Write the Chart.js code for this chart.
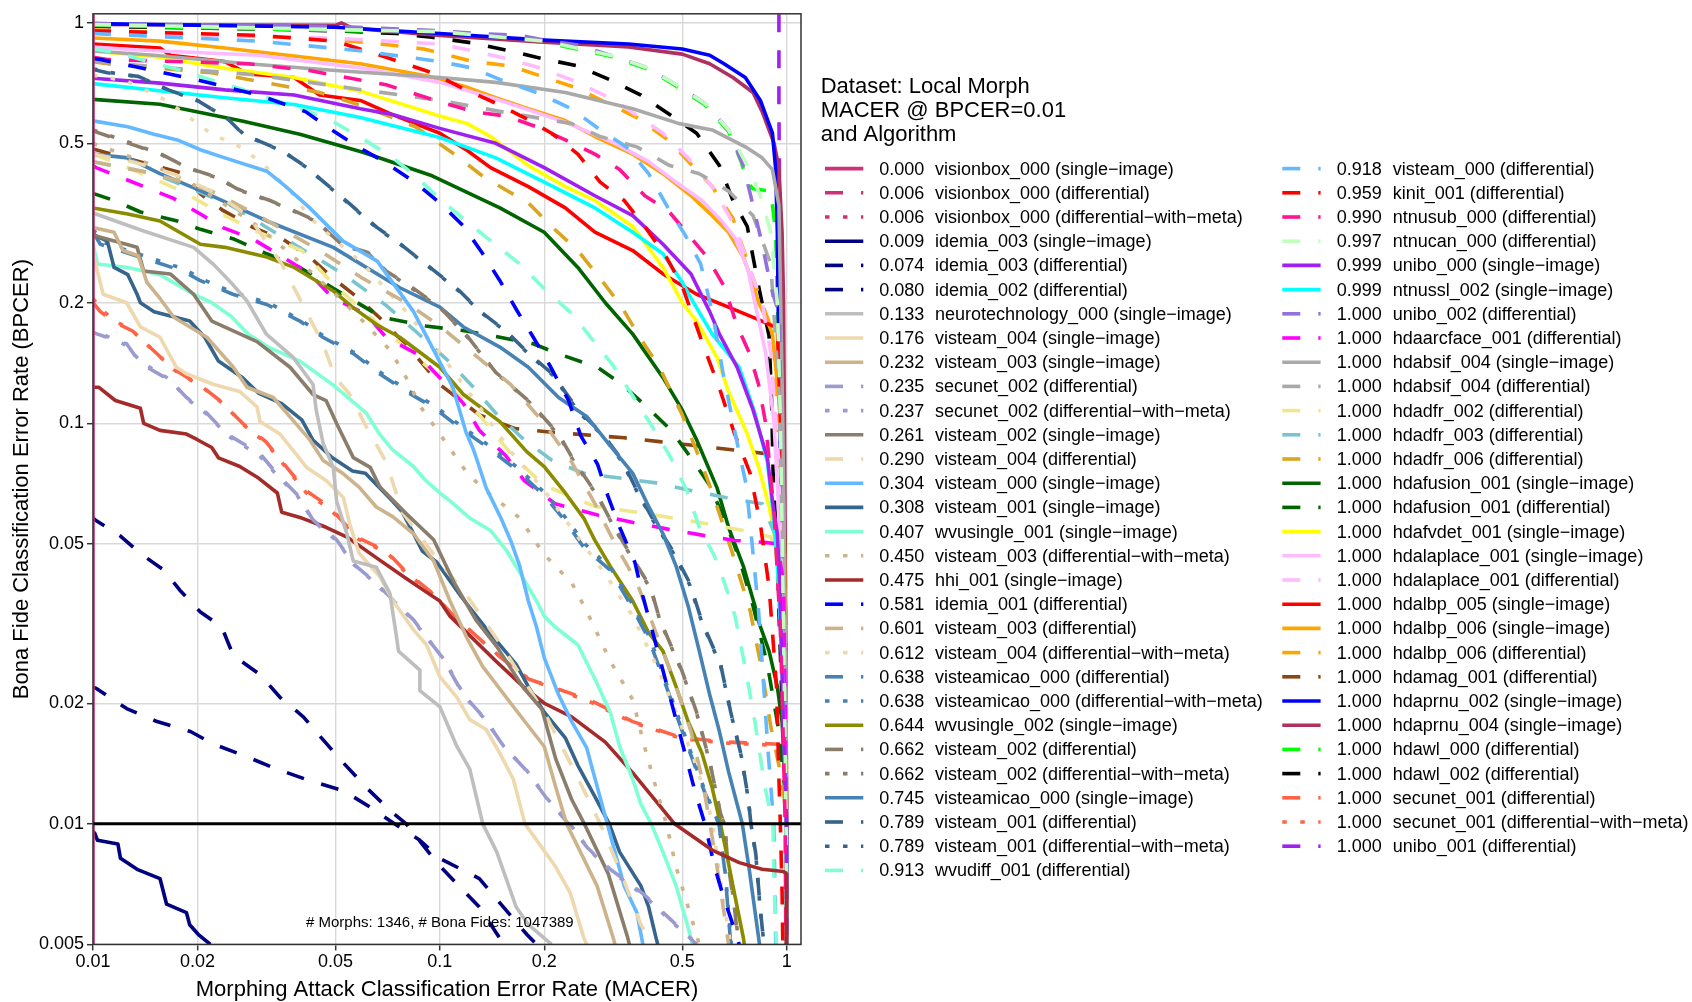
<!DOCTYPE html>
<html>
<head>
<meta charset="utf-8">
<script src="https://cdn.jsdelivr.net/npm/chart.js@4.4.1/dist/chart.umd.min.js"></script>
<style>
  html, body { margin: 0; padding: 0; background: #ffffff; }
  canvas { display: block; }
</style>
</head>
<body>
<canvas id="det" width="1692" height="1002"></canvas>
<script>
// ---- DET data: MACER (x) vs BPCER (y) per algorithm ----
const datasetName = 'Local Morph';
const morphCount = 1346;
const bonaFideCount = 1047389;
const bpcerThreshold = 0.01;

const xTicks = [0.01, 0.02, 0.05, 0.1, 0.2, 0.5, 1];
const yTicks = [0.005, 0.01, 0.02, 0.05, 0.1, 0.2, 0.5, 1];

const seriesLabels = [
  'visionbox_000 (single−image)', 'visionbox_000 (differential)', 'visionbox_000 (differential−with−meta)',
  'idemia_003 (single−image)', 'idemia_003 (differential)', 'idemia_002 (differential)',
  'neurotechnology_000 (single−image)', 'visteam_004 (single−image)', 'visteam_003 (single−image)',
  'secunet_002 (differential)', 'secunet_002 (differential−with−meta)', 'visteam_002 (single−image)',
  'visteam_004 (differential)', 'visteam_000 (single−image)', 'visteam_001 (single−image)',
  'wvusingle_001 (single−image)', 'visteam_003 (differential−with−meta)', 'hhi_001 (single−image)',
  'idemia_001 (differential)', 'visteam_003 (differential)', 'visteam_004 (differential−with−meta)',
  'visteamicao_000 (differential)', 'visteamicao_000 (differential−with−meta)', 'wvusingle_002 (single−image)',
  'visteam_002 (differential)', 'visteam_002 (differential−with−meta)', 'visteamicao_000 (single−image)',
  'visteam_001 (differential)', 'visteam_001 (differential−with−meta)', 'wvudiff_001 (differential)',
  'visteam_000 (differential)', 'kinit_001 (differential)', 'ntnusub_000 (differential)',
  'ntnucan_000 (differential)', 'unibo_000 (single−image)', 'ntnussl_002 (single−image)',
  'unibo_002 (differential)', 'hdaarcface_001 (differential)', 'hdabsif_004 (single−image)',
  'hdabsif_004 (differential)', 'hdadfr_002 (differential)', 'hdadfr_003 (differential)',
  'hdadfr_006 (differential)', 'hdafusion_001 (single−image)', 'hdafusion_001 (differential)',
  'hdafvdet_001 (single−image)', 'hdalaplace_001 (single−image)', 'hdalaplace_001 (differential)',
  'hdalbp_005 (single−image)', 'hdalbp_006 (single−image)', 'hdalbp_006 (differential)',
  'hdamag_001 (differential)', 'hdaprnu_002 (single−image)', 'hdaprnu_004 (single−image)',
  'hdawl_000 (differential)', 'hdawl_002 (differential)', 'secunet_001 (differential)',
  'secunet_001 (differential−with−meta)', 'unibo_001 (differential)'
];

const macerAtThreshold = [
  0.000, 0.006, 0.006, 0.009, 0.074, 0.080, 0.133, 0.176, 0.232, 0.235,
  0.237, 0.261, 0.290, 0.304, 0.308, 0.407, 0.450, 0.475, 0.581, 0.601,
  0.612, 0.638, 0.638, 0.644, 0.662, 0.662, 0.745, 0.789, 0.789, 0.913,
  0.918, 0.959, 0.990, 0.997, 0.999, 0.999, 1.000, 1.000, 1.000, 1.000,
  1.000, 1.000, 1.000, 1.000, 1.000, 1.000, 1.000, 1.000, 1.000, 1.000,
  1.000, 1.000, 1.000, 1.000, 1.000, 1.000, 1.000, 1.000, 1.000
];

const seriesColors = [
  '#CD3278', '#CD3278', '#CD3278', '#000080', '#000080', '#000080',
  '#BEBEBE', '#EED8AE', '#CDB38B', '#9B9BCF', '#9B9BCF', '#8B7D6B',
  '#EED8AE', '#63B8FF', '#36648B', '#7FFFD4', '#CDB38B', '#A52A2A',
  '#0000FF', '#CDB38B', '#EED8AE', '#4682B4', '#4682B4', '#8B8B00',
  '#8B7D6B', '#8B7D6B', '#4682B4', '#36648B', '#36648B', '#7FFFD4',
  '#63B8FF', '#FF0000', '#FF1493', '#C1FFC1', '#A020F0', '#00FFFF',
  '#9370DB', '#FF00FF', '#A9A9A9', '#A9A9A9', '#F0E68C', '#7AC5CD',
  '#DAA520', '#006400', '#006400', '#FFFF00', '#FFBBFF', '#FFBBFF',
  '#FF0000', '#FFA500', '#FFA500', '#8B4513', '#0000FF', '#B03060',
  '#00FF00', '#000000', '#FF6347', '#FF6347', '#A020F0'
];

// ---- curve points [MACER, BPCER] ----
const visionbox000Single = [[0.01, 0.005], [0.01, 1.05]];
const visionbox000Diff = [[0.004, 0.03], [0.006, 0.01], [0.0075, 0.005]];
const visionbox000Meta = [[0.004, 0.028], [0.006, 0.01], [0.0078, 0.005]];
const idemia003Single = [[0.009, 0.01], [0.0101, 0.0095], [0.0103, 0.0091], [0.0118, 0.0089], [0.012, 0.0082], [0.0134, 0.0077], [0.0156, 0.0073], [0.0163, 0.0063], [0.0186, 0.006], [0.019, 0.0056], [0.0201, 0.0053], [0.0218, 0.005]];
const idemia003Diff = [[0.0098, 0.022], [0.0102, 0.0218], [0.0125, 0.0194], [0.0153, 0.018], [0.0191, 0.017], [0.0223, 0.0158], [0.0278, 0.0147], [0.0339, 0.0137], [0.0413, 0.0129], [0.0527, 0.0121], [0.063, 0.011], [0.074, 0.01], [0.0876, 0.0091], [0.1, 0.0082], [0.13, 0.0073], [0.15, 0.0063], [0.178, 0.0053], [0.19, 0.005]];
const idemia002Diff = [[0.0098, 0.059], [0.0102, 0.0572], [0.012, 0.0523], [0.0137, 0.0473], [0.016, 0.043], [0.0178, 0.0383], [0.0204, 0.0338], [0.0235, 0.031], [0.0254, 0.0263], [0.0303, 0.0236], [0.0346, 0.0207], [0.0404, 0.0185], [0.0461, 0.0162], [0.0527, 0.0142], [0.0615, 0.0123], [0.0718, 0.0108], [0.08, 0.01], [0.098, 0.008], [0.11, 0.0072], [0.13, 0.0062], [0.153, 0.005]];
const neurotechnology000Single = [[0.01, 0.335], [0.014, 0.302], [0.0195, 0.275], [0.0223, 0.249], [0.0253, 0.222], [0.0278, 0.202], [0.0316, 0.167], [0.0378, 0.146], [0.0431, 0.125], [0.044, 0.108], [0.0461, 0.089], [0.0493, 0.0776], [0.0504, 0.064], [0.0539, 0.0531], [0.0563, 0.0453], [0.0656, 0.0437], [0.0718, 0.0376], [0.075, 0.0293], [0.076, 0.027], [0.0876, 0.0242], [0.0876, 0.0215], [0.1, 0.0196], [0.112, 0.0156], [0.122, 0.0137], [0.133, 0.01], [0.146, 0.0085], [0.166, 0.0062], [0.18, 0.0056], [0.21, 0.005]];
const visteam004Single = [[0.01, 0.265], [0.0107, 0.21], [0.0125, 0.2], [0.0137, 0.174], [0.0156, 0.164], [0.0174, 0.138], [0.0186, 0.133], [0.0223, 0.125], [0.0265, 0.12], [0.0297, 0.11], [0.0303, 0.101], [0.0346, 0.094], [0.0378, 0.0855], [0.0413, 0.0776], [0.047, 0.072], [0.0527, 0.0653], [0.055, 0.056], [0.0585, 0.0474], [0.0672, 0.0414], [0.0733, 0.036], [0.084, 0.0305], [0.0915, 0.028], [0.1, 0.0233], [0.112, 0.0207], [0.122, 0.0182], [0.136, 0.0172], [0.149, 0.015], [0.163, 0.0129], [0.176, 0.01], [0.216, 0.0078], [0.238, 0.0067], [0.26, 0.0052], [0.265, 0.005]];
const visteam003Single = [[0.01, 0.308], [0.0115, 0.3], [0.0122, 0.27], [0.0135, 0.262], [0.0143, 0.225], [0.0156, 0.205], [0.0171, 0.184], [0.0213, 0.164], [0.0254, 0.138], [0.0278, 0.123], [0.0331, 0.116], [0.0362, 0.106], [0.0422, 0.0909], [0.0461, 0.0807], [0.0527, 0.0748], [0.0585, 0.0693], [0.0656, 0.0618], [0.0733, 0.0584], [0.084, 0.053], [0.096, 0.0453], [0.107, 0.036], [0.12, 0.029], [0.133, 0.0247], [0.163, 0.0196], [0.2, 0.0156], [0.215, 0.0125], [0.232, 0.01], [0.284, 0.007], [0.316, 0.0052], [0.32, 0.005]];
const secunet002Diff = [[0.0098, 0.17], [0.0103, 0.167], [0.0125, 0.158], [0.0137, 0.141], [0.0167, 0.128], [0.0186, 0.116], [0.0213, 0.106], [0.0243, 0.094], [0.0303, 0.084], [0.0339, 0.0748], [0.0387, 0.0665], [0.0431, 0.0574], [0.0504, 0.0512], [0.0563, 0.0446], [0.0643, 0.0405], [0.0733, 0.0362], [0.084, 0.0323], [0.0915, 0.0293], [0.102, 0.0259], [0.117, 0.021], [0.135, 0.0183], [0.152, 0.0157], [0.176, 0.0137], [0.203, 0.0116], [0.235, 0.01], [0.267, 0.0087], [0.31, 0.0077], [0.385, 0.0067], [0.46, 0.0058], [0.55, 0.005]];
const secunet002Meta = [[0.0098, 0.175], [0.0105, 0.168], [0.0124, 0.157], [0.0138, 0.142], [0.0166, 0.129], [0.0187, 0.115], [0.0214, 0.105], [0.0245, 0.093], [0.0302, 0.083], [0.034, 0.074], [0.0388, 0.066], [0.0432, 0.057], [0.0505, 0.0508], [0.0565, 0.0444], [0.0645, 0.0402], [0.0735, 0.036], [0.0842, 0.0321], [0.092, 0.029], [0.103, 0.0257], [0.118, 0.0208], [0.136, 0.0181], [0.153, 0.0156], [0.178, 0.0136], [0.205, 0.0115], [0.237, 0.01], [0.27, 0.0086], [0.312, 0.0076], [0.39, 0.0066], [0.465, 0.0057], [0.555, 0.005]];
const visteam002Single = [[0.01, 0.295], [0.0134, 0.275], [0.014, 0.24], [0.0167, 0.236], [0.0195, 0.21], [0.022, 0.18], [0.0297, 0.16], [0.037, 0.138], [0.0431, 0.118], [0.047, 0.114], [0.0504, 0.0999], [0.0563, 0.0821], [0.063, 0.0776], [0.0672, 0.0693], [0.08, 0.0595], [0.096, 0.0512], [0.11, 0.04], [0.127, 0.0323], [0.146, 0.0277], [0.174, 0.0219], [0.197, 0.0193], [0.216, 0.0145], [0.24, 0.0115], [0.261, 0.01], [0.306, 0.0075], [0.348, 0.0052], [0.352, 0.005]];
const visteam004Diff = [[0.01, 0.47], [0.013, 0.45], [0.017, 0.42], [0.022, 0.38], [0.028, 0.33], [0.035, 0.25], [0.04, 0.2], [0.046, 0.158], [0.05, 0.13], [0.055, 0.118], [0.0614, 0.098], [0.07, 0.08], [0.078, 0.06], [0.088, 0.052], [0.1, 0.045], [0.12, 0.037], [0.15, 0.028], [0.2, 0.019], [0.246, 0.0134], [0.29, 0.01], [0.33, 0.0077], [0.38, 0.0056], [0.41, 0.005]];
const visteam000Single = [[0.01, 0.569], [0.0126, 0.55], [0.015, 0.527], [0.0175, 0.51], [0.0204, 0.482], [0.024, 0.46], [0.0317, 0.426], [0.036, 0.39], [0.042, 0.346], [0.0526, 0.285], [0.066, 0.254], [0.077, 0.211], [0.084, 0.19], [0.095, 0.155], [0.109, 0.123], [0.119, 0.095], [0.125, 0.086], [0.128, 0.081], [0.136, 0.069], [0.15, 0.058], [0.16, 0.051], [0.17, 0.044], [0.18, 0.036], [0.19, 0.031], [0.2, 0.026], [0.22, 0.021], [0.24, 0.018], [0.265, 0.0155], [0.28, 0.013], [0.304, 0.01], [0.34, 0.007], [0.37, 0.006], [0.385, 0.005]];
const visteam001Single = [[0.01, 0.296], [0.011, 0.285], [0.0115, 0.245], [0.0126, 0.235], [0.0134, 0.21], [0.0137, 0.2], [0.015, 0.19], [0.019, 0.18], [0.021, 0.164], [0.023, 0.143], [0.027, 0.13], [0.03, 0.119], [0.035, 0.112], [0.04, 0.102], [0.043, 0.091], [0.049, 0.082], [0.056, 0.076], [0.061, 0.075], [0.067, 0.069], [0.073, 0.064], [0.078, 0.06], [0.084, 0.053], [0.089, 0.048], [0.098, 0.045], [0.115, 0.037], [0.135, 0.031], [0.166, 0.025], [0.18, 0.022], [0.2, 0.019], [0.23, 0.0164], [0.25, 0.014], [0.28, 0.0117], [0.308, 0.01], [0.33, 0.0085], [0.38, 0.007], [0.4, 0.0062], [0.42, 0.0052], [0.425, 0.005]];
const wvusingle001Single = [[0.01, 0.28], [0.0103, 0.25], [0.0126, 0.245], [0.0156, 0.235], [0.0195, 0.21], [0.022, 0.2], [0.025, 0.185], [0.028, 0.167], [0.032, 0.155], [0.0395, 0.143], [0.049, 0.125], [0.0614, 0.106], [0.067, 0.094], [0.073, 0.086], [0.084, 0.078], [0.091, 0.072], [0.1, 0.067], [0.107, 0.064], [0.122, 0.058], [0.14, 0.054], [0.156, 0.048], [0.174, 0.041], [0.19, 0.036], [0.2, 0.033], [0.215, 0.031], [0.25, 0.028], [0.28, 0.023], [0.31, 0.019], [0.33, 0.0156], [0.36, 0.0129], [0.38, 0.0112], [0.407, 0.01], [0.44, 0.0085], [0.48, 0.007], [0.52, 0.0055], [0.535, 0.005]];
const visteam003Meta = [[0.01, 0.5], [0.015, 0.44], [0.02, 0.39], [0.03, 0.31], [0.04, 0.25], [0.05, 0.21], [0.06, 0.18], [0.072, 0.152], [0.08, 0.13], [0.088, 0.11], [0.1, 0.094], [0.12, 0.075], [0.135, 0.068], [0.17, 0.058], [0.2, 0.047], [0.24, 0.04], [0.265, 0.034], [0.31, 0.0255], [0.36, 0.0204], [0.39, 0.0155], [0.42, 0.0123], [0.45, 0.01], [0.48, 0.0078], [0.52, 0.0062], [0.56, 0.005]];
const hhi001Single = [[0.01, 0.123], [0.0104, 0.123], [0.0116, 0.114], [0.0137, 0.109], [0.014, 0.1], [0.0156, 0.096], [0.0186, 0.094], [0.02, 0.091], [0.022, 0.087], [0.023, 0.082], [0.0265, 0.078], [0.03, 0.073], [0.034, 0.067], [0.035, 0.06], [0.04, 0.058], [0.047, 0.055], [0.054, 0.052], [0.066, 0.046], [0.08, 0.041], [0.091, 0.038], [0.1, 0.036], [0.107, 0.033], [0.145, 0.0255], [0.174, 0.022], [0.2, 0.02], [0.24, 0.0185], [0.3, 0.016], [0.36, 0.0134], [0.42, 0.0114], [0.475, 0.01], [0.61, 0.0086], [0.73, 0.008], [0.85, 0.0077], [0.98, 0.0076], [1.0, 0.0075], [1.0, 0.005]];
const idemia001Diff = [[0.01, 0.815], [0.0105, 0.81], [0.02, 0.72], [0.03, 0.66], [0.041, 0.6], [0.047, 0.552], [0.0576, 0.492], [0.0685, 0.452], [0.085, 0.399], [0.1, 0.355], [0.117, 0.311], [0.133, 0.265], [0.149, 0.227], [0.167, 0.191], [0.186, 0.164], [0.209, 0.138], [0.235, 0.114], [0.255, 0.093], [0.285, 0.079], [0.305, 0.066], [0.33, 0.055], [0.365, 0.045], [0.385, 0.037], [0.43, 0.026], [0.49, 0.017], [0.545, 0.012], [0.581, 0.01], [0.62, 0.0078], [0.66, 0.0065], [0.71, 0.0054], [0.73, 0.005]];
const visteam003Diff = [[0.01, 0.45], [0.015, 0.42], [0.022, 0.38], [0.03, 0.33], [0.045, 0.27], [0.06, 0.23], [0.08, 0.2], [0.1, 0.175], [0.13, 0.145], [0.16, 0.125], [0.2, 0.1], [0.24, 0.08], [0.28, 0.063], [0.32, 0.05], [0.37, 0.04], [0.42, 0.03], [0.48, 0.022], [0.53, 0.017], [0.57, 0.013], [0.601, 0.01], [0.63, 0.0078], [0.66, 0.006], [0.68, 0.005]];
const visteam004Meta = [[0.01, 0.74], [0.0125, 0.715], [0.0163, 0.64], [0.022, 0.527], [0.027, 0.487], [0.0317, 0.435], [0.037, 0.381], [0.0422, 0.326], [0.047, 0.3], [0.06, 0.25], [0.08, 0.19], [0.1, 0.15], [0.13, 0.11], [0.16, 0.085], [0.2, 0.068], [0.25, 0.052], [0.3, 0.042], [0.36, 0.033], [0.42, 0.025], [0.48, 0.019], [0.54, 0.0145], [0.58, 0.012], [0.612, 0.01], [0.64, 0.0075], [0.67, 0.0058], [0.69, 0.005]];
const visteamicao000Diff = [[0.01, 0.3], [0.0105, 0.28], [0.0182, 0.24], [0.0204, 0.227], [0.0253, 0.21], [0.0317, 0.198], [0.0395, 0.18], [0.046, 0.164], [0.0565, 0.149], [0.067, 0.133], [0.08, 0.12], [0.0953, 0.11], [0.115, 0.097], [0.135, 0.088], [0.165, 0.077], [0.2, 0.066], [0.23, 0.057], [0.26, 0.049], [0.31, 0.043], [0.35, 0.036], [0.4, 0.029], [0.45, 0.022], [0.52, 0.0155], [0.58, 0.012], [0.638, 0.01], [0.665, 0.0075], [0.69, 0.005]];
const visteamicao000Meta = [[0.01, 0.305], [0.0107, 0.283], [0.0185, 0.242], [0.0206, 0.229], [0.0255, 0.212], [0.032, 0.2], [0.0398, 0.181], [0.0463, 0.165], [0.0568, 0.15], [0.0675, 0.134], [0.0805, 0.121], [0.096, 0.111], [0.116, 0.098], [0.136, 0.089], [0.166, 0.078], [0.201, 0.067], [0.231, 0.058], [0.262, 0.05], [0.311, 0.0435], [0.352, 0.0365], [0.402, 0.0293], [0.452, 0.0222], [0.522, 0.0156], [0.581, 0.0121], [0.638, 0.01], [0.667, 0.0074], [0.692, 0.005]];
const wvusingle002Single = [[0.01, 0.345], [0.0126, 0.333], [0.0156, 0.32], [0.0204, 0.28], [0.024, 0.275], [0.0317, 0.26], [0.038, 0.245], [0.0493, 0.214], [0.056, 0.195], [0.066, 0.176], [0.0767, 0.164], [0.1, 0.138], [0.117, 0.118], [0.149, 0.101], [0.178, 0.085], [0.2, 0.078], [0.23, 0.067], [0.26, 0.058], [0.28, 0.051], [0.31, 0.044], [0.36, 0.036], [0.4, 0.03], [0.44, 0.027], [0.48, 0.022], [0.52, 0.018], [0.57, 0.015], [0.61, 0.0123], [0.644, 0.01], [0.67, 0.0085], [0.7, 0.007], [0.75, 0.0052], [0.755, 0.005]];
const visteam002Diff = [[0.01, 0.537], [0.0127, 0.5], [0.0157, 0.47], [0.0187, 0.435], [0.023, 0.41], [0.026, 0.385], [0.0324, 0.36], [0.037, 0.343], [0.044, 0.32], [0.052, 0.28], [0.062, 0.267], [0.07, 0.24], [0.084, 0.217], [0.1, 0.195], [0.12, 0.165], [0.145, 0.134], [0.18, 0.114], [0.22, 0.094], [0.245, 0.08], [0.285, 0.066], [0.315, 0.056], [0.36, 0.046], [0.405, 0.039], [0.43, 0.0325], [0.5, 0.024], [0.55, 0.019], [0.6, 0.0143], [0.645, 0.0106], [0.662, 0.01], [0.675, 0.0082], [0.71, 0.006], [0.725, 0.005]];
const visteam002Meta = [[0.01, 0.54], [0.0128, 0.502], [0.0158, 0.468], [0.0189, 0.433], [0.0232, 0.408], [0.0262, 0.383], [0.0327, 0.358], [0.0373, 0.341], [0.0443, 0.318], [0.0523, 0.279], [0.0623, 0.265], [0.0703, 0.239], [0.0845, 0.215], [0.101, 0.193], [0.121, 0.163], [0.146, 0.133], [0.181, 0.113], [0.221, 0.093], [0.246, 0.079], [0.286, 0.0655], [0.316, 0.0555], [0.361, 0.0455], [0.406, 0.0385], [0.432, 0.032], [0.502, 0.0237], [0.551, 0.0188], [0.601, 0.0142], [0.646, 0.0105], [0.662, 0.01], [0.677, 0.0081], [0.712, 0.006], [0.727, 0.005]];
const visteamicao000Single = [[0.01, 0.47], [0.0126, 0.46], [0.0156, 0.42], [0.0204, 0.381], [0.0317, 0.32], [0.0493, 0.275], [0.0767, 0.218], [0.1, 0.195], [0.117, 0.174], [0.149, 0.155], [0.18, 0.138], [0.22, 0.116], [0.265, 0.104], [0.3, 0.091], [0.36, 0.075], [0.4, 0.062], [0.44, 0.053], [0.48, 0.044], [0.52, 0.035], [0.56, 0.027], [0.6, 0.021], [0.64, 0.017], [0.68, 0.0135], [0.745, 0.01], [0.78, 0.0077], [0.83, 0.0052], [0.835, 0.005]];
const visteam001Diff = [[0.01, 0.765], [0.011, 0.75], [0.0135, 0.735], [0.0165, 0.68], [0.02, 0.64], [0.0245, 0.575], [0.0271, 0.527], [0.0353, 0.478], [0.0414, 0.435], [0.047, 0.396], [0.055, 0.353], [0.066, 0.308], [0.077, 0.28], [0.0937, 0.245], [0.114, 0.214], [0.13, 0.191], [0.155, 0.17], [0.181, 0.149], [0.211, 0.133], [0.25, 0.108], [0.295, 0.094], [0.335, 0.081], [0.37, 0.068], [0.41, 0.058], [0.47, 0.048], [0.525, 0.04], [0.57, 0.032], [0.645, 0.025], [0.69, 0.019], [0.74, 0.0148], [0.775, 0.0116], [0.789, 0.01], [0.815, 0.0084], [0.84, 0.0061], [0.86, 0.005]];
const visteam001Meta = [[0.01, 0.768], [0.0111, 0.752], [0.0136, 0.733], [0.0166, 0.678], [0.0202, 0.637], [0.0247, 0.572], [0.0273, 0.525], [0.0355, 0.476], [0.0416, 0.433], [0.0472, 0.394], [0.0552, 0.351], [0.0662, 0.306], [0.0773, 0.279], [0.094, 0.244], [0.1142, 0.213], [0.1305, 0.19], [0.1555, 0.169], [0.1815, 0.148], [0.2115, 0.132], [0.2505, 0.107], [0.2955, 0.093], [0.3355, 0.08], [0.3705, 0.0675], [0.4105, 0.0575], [0.4705, 0.0475], [0.5255, 0.0395], [0.5705, 0.0317], [0.6455, 0.0248], [0.6905, 0.0189], [0.7405, 0.0147], [0.7755, 0.0115], [0.789, 0.01], [0.8155, 0.0083], [0.8405, 0.006], [0.861, 0.005]];
const wvudiff001Diff = [[0.01, 0.86], [0.0115, 0.845], [0.0175, 0.765], [0.0265, 0.685], [0.041, 0.605], [0.049, 0.568], [0.06, 0.513], [0.072, 0.465], [0.086, 0.411], [0.1, 0.363], [0.119, 0.32], [0.142, 0.283], [0.17, 0.25], [0.203, 0.214], [0.24, 0.188], [0.275, 0.162], [0.315, 0.14], [0.36, 0.117], [0.41, 0.098], [0.46, 0.083], [0.515, 0.068], [0.56, 0.055], [0.62, 0.0465], [0.665, 0.0395], [0.71, 0.033], [0.76, 0.0245], [0.81, 0.018], [0.865, 0.0124], [0.913, 0.01], [0.92, 0.007], [0.935, 0.005]];
const visteam000Diff = [[0.01, 0.94], [0.03, 0.9], [0.06, 0.85], [0.1, 0.8], [0.125, 0.77], [0.15, 0.72], [0.19, 0.67], [0.24, 0.61], [0.29, 0.54], [0.345, 0.49], [0.4, 0.42], [0.455, 0.345], [0.51, 0.295], [0.565, 0.25], [0.61, 0.19], [0.655, 0.134], [0.715, 0.092], [0.765, 0.07], [0.795, 0.05], [0.83, 0.034], [0.885, 0.015], [0.918, 0.01], [0.925, 0.007], [0.93, 0.005]];
const kinit001Diff = [[0.01, 0.955], [0.03, 0.93], [0.05, 0.9], [0.07, 0.82], [0.095, 0.75], [0.115, 0.69], [0.145, 0.63], [0.175, 0.58], [0.21, 0.53], [0.25, 0.47], [0.29, 0.4], [0.34, 0.36], [0.39, 0.31], [0.45, 0.26], [0.5, 0.22], [0.57, 0.16], [0.645, 0.12], [0.705, 0.095], [0.785, 0.075], [0.84, 0.056], [0.89, 0.039], [0.935, 0.022], [0.95, 0.013], [0.959, 0.01], [0.97, 0.0068], [0.975, 0.005]];
const ntnusub000Diff = [[0.01, 0.82], [0.011, 0.81], [0.028, 0.79], [0.042, 0.76], [0.07, 0.7], [0.097, 0.64], [0.125, 0.6], [0.155, 0.585], [0.19, 0.55], [0.23, 0.51], [0.28, 0.47], [0.33, 0.43], [0.39, 0.37], [0.455, 0.34], [0.59, 0.26], [0.66, 0.22], [0.72, 0.175], [0.78, 0.15], [0.83, 0.125], [0.87, 0.1], [0.92, 0.06], [0.96, 0.03], [0.98, 0.015], [0.99, 0.01], [0.995, 0.005]];
const ntnucan000Diff = [[0.01, 0.99], [0.1, 0.95], [0.2, 0.9], [0.31, 0.83], [0.4, 0.77], [0.48, 0.7], [0.58, 0.63], [0.68, 0.54], [0.77, 0.44], [0.84, 0.37], [0.9, 0.3], [0.94, 0.2], [0.96, 0.1], [0.98, 0.03], [0.997, 0.01], [1.0, 0.005]];
const unibo000Single = [[0.01, 0.727], [0.0156, 0.707], [0.024, 0.68], [0.038, 0.66], [0.059, 0.61], [0.073, 0.59], [0.1, 0.545], [0.145, 0.5], [0.2, 0.435], [0.28, 0.37], [0.36, 0.33], [0.44, 0.28], [0.53, 0.236], [0.6, 0.19], [0.64, 0.167], [0.72, 0.138], [0.8, 0.108], [0.88, 0.082], [0.91, 0.064], [0.94, 0.053], [0.955, 0.04], [0.975, 0.02], [0.999, 0.01], [1.0, 0.005]];
const ntnussl002Single = [[0.01, 0.705], [0.024, 0.65], [0.038, 0.625], [0.059, 0.58], [0.1, 0.517], [0.145, 0.46], [0.2, 0.4], [0.28, 0.345], [0.36, 0.3], [0.44, 0.265], [0.5, 0.225], [0.53, 0.205], [0.61, 0.167], [0.73, 0.138], [0.81, 0.106], [0.88, 0.08], [0.91, 0.062], [0.94, 0.045], [0.97, 0.025], [0.999, 0.01], [1.0, 0.005]];
const unibo002Diff = [[0.01, 0.995], [0.05, 0.98], [0.1, 0.955], [0.13, 0.94], [0.17, 0.93], [0.2, 0.905], [0.25, 0.88], [0.31, 0.83], [0.4, 0.77], [0.48, 0.7], [0.58, 0.63], [0.68, 0.54], [0.75, 0.44], [0.8, 0.35], [0.85, 0.28], [0.9, 0.22], [0.955, 0.185], [0.96, 0.1], [0.97, 0.05], [0.985, 0.02], [1.0, 0.01], [1.0, 0.005]];
const hdaarcface001Diff = [[0.01, 0.44], [0.0102, 0.435], [0.017, 0.365], [0.0204, 0.333], [0.0237, 0.308], [0.029, 0.288], [0.0353, 0.26], [0.0422, 0.236], [0.049, 0.206], [0.0614, 0.187], [0.07, 0.164], [0.086, 0.149], [0.1, 0.13], [0.117, 0.112], [0.13, 0.096], [0.155, 0.083], [0.175, 0.072], [0.215, 0.063], [0.285, 0.059], [0.345, 0.057], [0.45, 0.0545], [0.575, 0.0525], [0.71, 0.051], [0.85, 0.0505], [0.94, 0.05], [0.98, 0.04], [0.99, 0.02], [1.0, 0.01], [1.0, 0.005]];
const hdabsif004Single = [[0.01, 0.85], [0.015, 0.83], [0.028, 0.79], [0.05, 0.76], [0.1, 0.73], [0.145, 0.71], [0.23, 0.67], [0.36, 0.61], [0.49, 0.56], [0.61, 0.54], [0.76, 0.49], [0.85, 0.46], [0.91, 0.43], [0.95, 0.35], [0.975, 0.1], [0.99, 0.03], [1.0, 0.01], [1.0, 0.005]];
const hdabsif004Diff = [[0.01, 0.8], [0.03, 0.74], [0.06, 0.68], [0.1, 0.64], [0.15, 0.6], [0.24, 0.56], [0.29, 0.52], [0.37, 0.49], [0.46, 0.44], [0.56, 0.42], [0.68, 0.38], [0.8, 0.33], [0.9, 0.25], [0.95, 0.12], [0.98, 0.04], [1.0, 0.01], [1.0, 0.005]];
const hdadfr002Diff = [[0.01, 0.47], [0.013, 0.43], [0.018, 0.38], [0.024, 0.33], [0.03, 0.3], [0.04, 0.27], [0.05, 0.22], [0.07, 0.17], [0.1, 0.13], [0.13, 0.105], [0.16, 0.084], [0.2, 0.07], [0.28, 0.062], [0.37, 0.06], [0.47, 0.058], [0.6, 0.056], [0.75, 0.054], [0.9, 0.052], [0.97, 0.045], [0.99, 0.02], [1.0, 0.01], [1.0, 0.005]];
const hdadfr003Diff = [[0.01, 0.45], [0.015, 0.42], [0.02, 0.38], [0.025, 0.35], [0.038, 0.28], [0.053, 0.235], [0.07, 0.197], [0.085, 0.17], [0.105, 0.144], [0.125, 0.123], [0.145, 0.106], [0.175, 0.091], [0.21, 0.081], [0.26, 0.075], [0.33, 0.073], [0.42, 0.071], [0.53, 0.068], [0.68, 0.065], [0.85, 0.063], [0.95, 0.05], [0.99, 0.02], [1.0, 0.01], [1.0, 0.005]];
const hdadfr006Diff = [[0.01, 0.8], [0.011, 0.79], [0.022, 0.75], [0.045, 0.67], [0.06, 0.62], [0.085, 0.55], [0.11, 0.47], [0.135, 0.41], [0.18, 0.355], [0.21, 0.31], [0.25, 0.27], [0.29, 0.23], [0.335, 0.195], [0.375, 0.165], [0.43, 0.138], [0.5, 0.105], [0.56, 0.082], [0.615, 0.066], [0.7, 0.047], [0.785, 0.034], [0.85, 0.024], [0.9, 0.0175], [0.95, 0.014], [0.98, 0.012], [1.0, 0.01], [1.0, 0.005]];
const hdafusion001Single = [[0.01, 0.644], [0.0156, 0.626], [0.024, 0.58], [0.0271, 0.568], [0.0395, 0.527], [0.06, 0.475], [0.095, 0.415], [0.149, 0.345], [0.2, 0.3], [0.25, 0.245], [0.3, 0.2], [0.36, 0.167], [0.44, 0.13], [0.5, 0.108], [0.55, 0.091], [0.63, 0.069], [0.68, 0.055], [0.75, 0.044], [0.81, 0.035], [0.83, 0.032], [0.89, 0.027], [0.94, 0.022], [0.97, 0.018], [0.99, 0.013], [1.0, 0.01], [1.0, 0.005]];
const hdafusion001Diff = [[0.01, 0.375], [0.0115, 0.36], [0.0137, 0.337], [0.0175, 0.32], [0.0204, 0.305], [0.0253, 0.289], [0.0317, 0.265], [0.0395, 0.245], [0.049, 0.218], [0.068, 0.184], [0.091, 0.175], [0.119, 0.17], [0.149, 0.164], [0.186, 0.158], [0.22, 0.149], [0.285, 0.138], [0.335, 0.125], [0.395, 0.11], [0.465, 0.096], [0.535, 0.081], [0.6, 0.07], [0.665, 0.057], [0.73, 0.046], [0.8, 0.035], [0.88, 0.025], [0.95, 0.017], [0.99, 0.012], [1.0, 0.01], [1.0, 0.005]];
const hdafvdet001Single = [[0.01, 0.85], [0.0156, 0.82], [0.024, 0.77], [0.038, 0.73], [0.059, 0.675], [0.1, 0.585], [0.12, 0.56], [0.14, 0.52], [0.18, 0.44], [0.23, 0.39], [0.28, 0.36], [0.36, 0.31], [0.44, 0.245], [0.5, 0.2], [0.55, 0.18], [0.63, 0.146], [0.68, 0.12], [0.77, 0.094], [0.83, 0.078], [0.89, 0.062], [0.92, 0.053], [0.94, 0.044], [0.96, 0.033], [0.98, 0.02], [1.0, 0.01], [1.0, 0.005]];
const hdalaplace001Single = [[0.01, 0.87], [0.0135, 0.855], [0.03, 0.83], [0.06, 0.77], [0.1, 0.71], [0.145, 0.645], [0.23, 0.565], [0.32, 0.5], [0.4, 0.45], [0.48, 0.4], [0.57, 0.36], [0.65, 0.32], [0.71, 0.29], [0.77, 0.245], [0.81, 0.2], [0.87, 0.15], [0.92, 0.1], [0.96, 0.05], [0.985, 0.02], [1.0, 0.01], [1.0, 0.005]];
const hdalaplace001Diff = [[0.01, 0.95], [0.05, 0.915], [0.1, 0.885], [0.125, 0.85], [0.16, 0.81], [0.195, 0.77], [0.24, 0.72], [0.32, 0.64], [0.44, 0.53], [0.52, 0.46], [0.61, 0.39], [0.71, 0.31], [0.78, 0.245], [0.85, 0.2], [0.9, 0.15], [0.95, 0.08], [0.98, 0.03], [1.0, 0.01], [1.0, 0.005]];
const hdalbp005Single = [[0.01, 0.885], [0.0156, 0.865], [0.0167, 0.83], [0.024, 0.8], [0.028, 0.745], [0.038, 0.73], [0.045, 0.66], [0.059, 0.64], [0.073, 0.59], [0.1, 0.53], [0.12, 0.48], [0.14, 0.435], [0.18, 0.39], [0.23, 0.345], [0.28, 0.3], [0.36, 0.27], [0.44, 0.236], [0.55, 0.21], [0.68, 0.195], [0.81, 0.183], [0.94, 0.173], [0.96, 0.1], [0.98, 0.03], [1.0, 0.01], [1.0, 0.005]];
const hdalbp006Single = [[0.01, 0.916], [0.0156, 0.9], [0.024, 0.865], [0.038, 0.826], [0.059, 0.79], [0.092, 0.736], [0.12, 0.69], [0.145, 0.65], [0.18, 0.61], [0.23, 0.57], [0.28, 0.52], [0.36, 0.47], [0.44, 0.42], [0.53, 0.37], [0.61, 0.33], [0.68, 0.3], [0.75, 0.26], [0.79, 0.23], [0.83, 0.2], [0.88, 0.18], [0.91, 0.167], [0.93, 0.138], [0.95, 0.114], [0.97, 0.094], [0.985, 0.05], [0.995, 0.02], [1.0, 0.01], [1.0, 0.005]];
const hdalbp006Diff = [[0.01, 0.96], [0.024, 0.93], [0.044, 0.915], [0.064, 0.89], [0.09, 0.86], [0.125, 0.8], [0.16, 0.78], [0.245, 0.69], [0.37, 0.58], [0.455, 0.51], [0.61, 0.39], [0.7, 0.325], [0.83, 0.21], [0.91, 0.17], [0.93, 0.13], [0.96, 0.07], [0.98, 0.03], [1.0, 0.01], [1.0, 0.005]];
const hdamag001Diff = [[0.01, 0.484], [0.0183, 0.42], [0.0204, 0.374], [0.0237, 0.34], [0.029, 0.308], [0.0353, 0.288], [0.0422, 0.26], [0.049, 0.231], [0.058, 0.206], [0.0687, 0.18], [0.085, 0.148], [0.1, 0.125], [0.13, 0.105], [0.165, 0.097], [0.21, 0.095], [0.34, 0.092], [0.43, 0.09], [0.545, 0.088], [0.685, 0.086], [0.87, 0.084], [0.96, 0.083], [0.99, 0.05], [1.0, 0.01], [1.0, 0.005]];
const hdaprnu002Single = [[0.01, 0.995], [0.05, 0.975], [0.1, 0.94], [0.2, 0.905], [0.35, 0.885], [0.5, 0.86], [0.6, 0.83], [0.66, 0.79], [0.76, 0.73], [0.84, 0.64], [0.91, 0.53], [0.93, 0.43], [0.94, 0.3], [0.945, 0.2], [0.96, 0.08], [0.99, 0.02], [1.0, 0.01], [1.0, 0.005]];
const hdaprnu004Single = [[0.01, 0.99], [0.05, 0.985], [0.052, 1.0], [0.056, 0.97], [0.1, 0.93], [0.2, 0.895], [0.35, 0.87], [0.5, 0.835], [0.6, 0.79], [0.7, 0.73], [0.8, 0.67], [0.85, 0.6], [0.92, 0.5], [0.95, 0.435], [0.97, 0.3], [0.98, 0.2], [0.99, 0.05], [1.0, 0.01], [1.0, 0.005]];
const hdawl000Diff = [[0.01, 0.985], [0.1, 0.945], [0.2, 0.895], [0.31, 0.825], [0.4, 0.765], [0.48, 0.695], [0.58, 0.625], [0.68, 0.535], [0.74, 0.45], [0.77, 0.4], [0.8, 0.385], [0.9, 0.38], [0.93, 0.3], [0.96, 0.1], [0.98, 0.03], [1.0, 0.01], [1.0, 0.005]];
const hdawl002Diff = [[0.01, 0.98], [0.03, 0.965], [0.05, 0.955], [0.075, 0.94], [0.095, 0.92], [0.125, 0.89], [0.16, 0.85], [0.19, 0.82], [0.25, 0.78], [0.31, 0.72], [0.38, 0.66], [0.46, 0.59], [0.55, 0.53], [0.64, 0.44], [0.7, 0.36], [0.77, 0.31], [0.83, 0.22], [0.89, 0.165], [0.905, 0.113], [0.915, 0.073], [0.94, 0.046], [0.95, 0.034], [0.97, 0.02], [1.0, 0.01], [1.0, 0.005]];
const secunet001Diff = [[0.01, 0.2], [0.0105, 0.19], [0.0114, 0.18], [0.013, 0.17], [0.017, 0.137], [0.0205, 0.124], [0.0235, 0.113], [0.027, 0.1], [0.0315, 0.09], [0.0365, 0.077], [0.041, 0.068], [0.048, 0.062], [0.0575, 0.052], [0.07, 0.048], [0.079, 0.043], [0.094, 0.038], [0.11, 0.033], [0.13, 0.029], [0.15, 0.026], [0.18, 0.023], [0.27, 0.0204], [0.36, 0.018], [0.5, 0.0164], [0.68, 0.016], [0.95, 0.0158], [0.98, 0.015], [0.99, 0.012], [1.0, 0.01], [1.0, 0.005]];
const secunet001Meta = [[0.01, 0.205], [0.0106, 0.192], [0.0115, 0.181], [0.0131, 0.169], [0.0171, 0.136], [0.0207, 0.123], [0.0237, 0.112], [0.0272, 0.099], [0.0317, 0.089], [0.0367, 0.076], [0.0412, 0.067], [0.0483, 0.061], [0.0578, 0.0515], [0.0705, 0.0475], [0.0795, 0.0425], [0.095, 0.0376], [0.111, 0.0328], [0.131, 0.0288], [0.152, 0.0258], [0.182, 0.0229], [0.27, 0.0202], [0.36, 0.0179], [0.5, 0.0163], [0.68, 0.0159], [0.95, 0.0157], [0.98, 0.0148], [0.99, 0.0118], [1.0, 0.01], [1.0, 0.005]];
const unibo001Diff = [[0.95, 1.05], [0.95, 0.6], [0.955, 0.35], [0.965, 0.2], [0.98, 0.1], [0.99, 0.04], [1.0, 0.01], [1.0, 0.005]];

const curvePoints = [
  visionbox000Single, visionbox000Diff, visionbox000Meta, idemia003Single, idemia003Diff, idemia002Diff,
  neurotechnology000Single, visteam004Single, visteam003Single, secunet002Diff, secunet002Meta, visteam002Single,
  visteam004Diff, visteam000Single, visteam001Single, wvusingle001Single, visteam003Meta, hhi001Single,
  idemia001Diff, visteam003Diff, visteam004Meta, visteamicao000Diff, visteamicao000Meta, wvusingle002Single,
  visteam002Diff, visteam002Meta, visteamicao000Single, visteam001Diff, visteam001Meta, wvudiff001Diff,
  visteam000Diff, kinit001Diff, ntnusub000Diff, ntnucan000Diff, unibo000Single, ntnussl002Single,
  unibo002Diff, hdaarcface001Diff, hdabsif004Single, hdabsif004Diff, hdadfr002Diff, hdadfr003Diff,
  hdadfr006Diff, hdafusion001Single, hdafusion001Diff, hdafvdet001Single, hdalaplace001Single, hdalaplace001Diff,
  hdalbp005Single, hdalbp006Single, hdalbp006Diff, hdamag001Diff, hdaprnu002Single, hdaprnu004Single,
  hdawl000Diff, hdawl002Diff, secunet001Diff, secunet001Meta, unibo001Diff
];

// ---- styling ----
const FONT = '"Liberation Sans", Arial, Helvetica, sans-serif';
const LINE_W = 3.6;
const DASHED = [18, 18];
const DOTTED = [4.5, 13.5];
const dashFor = label => label.includes('with−meta') ? DOTTED : (label.includes('differential') ? DASHED : []);
const LEGEND_ROWS_FIRST_COLUMN = 30;

// earlier entries are painted over later ones (Chart.js default for equal order)
const datasets = curvePoints.map((pts, i) => ({
  label: seriesLabels[i],
  data: pts.map(([x, y]) => ({ x, y })),
  showLine: true,
  borderColor: seriesColors[i],
  backgroundColor: seriesColors[i],
  borderWidth: LINE_W,
  borderDash: dashFor(seriesLabels[i]),
  borderCapStyle: 'butt',
  borderJoinStyle: 'round',
  pointRadius: 0,
  pointHoverRadius: 0,
  tension: 0,
  fill: false,
  order: 0
}));

// BPCER = 0.01 operating line
datasets.push({
  label: 'threshold',
  data: [{ x: 0.01, y: bpcerThreshold }, { x: 1.1, y: bpcerThreshold }],
  showLine: true,
  borderColor: '#000000',
  borderWidth: 3,
  pointRadius: 0,
  fill: false,
  order: -1
});

const decorations = {
  id: 'decorations',
  afterDatasetsDraw(chart) {
    const { ctx, chartArea: a, scales: { x, y } } = chart;
    ctx.save();
    // frame around the plotting region
    ctx.strokeStyle = '#333333';
    ctx.lineWidth = 1.5;
    ctx.setLineDash([]);
    ctx.strokeRect(a.left, a.top, a.right - a.left, a.bottom - a.top);
    // sample counts
    ctx.fillStyle = '#000000';
    ctx.font = `15px ${FONT}`;
    ctx.textAlign = 'center';
    ctx.textBaseline = 'middle';
    ctx.fillText(`# Morphs: ${morphCount}, # Bona Fides: ${bonaFideCount}`, x.getPixelForValue(0.1), y.getPixelForValue(0.00565));
    ctx.restore();
  },
  afterDraw(chart) {
    const { ctx, chartArea: a } = chart;
    ctx.save();
    ctx.fillStyle = '#000000';
    // axis titles
    ctx.font = `22px ${FONT}`;
    ctx.textAlign = 'center';
    ctx.textBaseline = 'middle';
    ctx.fillText('Morphing Attack Classification Error Rate (MACER)', (a.left + a.right) / 2, 989.5);
    ctx.save();
    ctx.translate(21.6, (a.top + a.bottom) / 2);
    ctx.rotate(-Math.PI / 2);
    ctx.fillText('Bona Fide Classification Error Rate (BPCER)', 0, 0);
    ctx.restore();

    // legend title
    ctx.textAlign = 'left';
    ctx.textBaseline = 'alphabetic';
    ctx.font = `22px ${FONT}`;
    ctx.fillText(`Dataset: ${datasetName}`, 820.7, 93.3);
    ctx.fillText(`MACER @ BPCER=${bpcerThreshold}`, 820.7, 117.3);
    ctx.fillText('and Algorithm', 820.7, 141);

    // legend entries, two columns
    const cols = [
      { line: 825, value: 879.3, name: 935 },
      { line: 1282.3, value: 1336.7, name: 1392.7 }
    ];
    ctx.font = `18px ${FONT}`;
    ctx.textBaseline = 'middle';
    seriesLabels.forEach((label, i) => {
      const c = i < LEGEND_ROWS_FIRST_COLUMN ? cols[0] : cols[1];
      const row = i < LEGEND_ROWS_FIRST_COLUMN ? i : i - LEGEND_ROWS_FIRST_COLUMN;
      const yy = 168.6 + row * 24.2;
      ctx.strokeStyle = seriesColors[i];
      ctx.lineWidth = LINE_W;
      ctx.lineCap = 'butt';
      ctx.setLineDash(dashFor(label));
      ctx.beginPath();
      ctx.moveTo(c.line, yy);
      ctx.lineTo(c.line + 38.3, yy);
      ctx.stroke();
      ctx.setLineDash([]);
      ctx.fillStyle = '#000000';
      ctx.fillText(macerAtThreshold[i].toFixed(3), c.value, yy + 1);
      ctx.fillText(label, c.name, yy + 1);
    });
    ctx.restore();
  }
};

new Chart(document.getElementById('det'), {
  type: 'scatter',
  data: { datasets },
  options: {
    responsive: false,
    devicePixelRatio: 1,
    animation: false,
    events: [],
    layout: { padding: { left: 0, top: 12.7, right: 891, bottom: 0 } },
    plugins: { legend: { display: false }, tooltip: { enabled: false } },
    scales: {
      x: {
        type: 'logarithmic',
        min: 0.01,
        max: 1.1,
        afterBuildTicks: axis => { axis.ticks = xTicks.map(v => ({ value: v })); },
        afterFit: axis => { axis.height = 57.6; },
        border: { display: false },
        grid: { color: '#d9d9d9', lineWidth: 1.4, drawTicks: true, tickLength: 6, tickColor: '#333333', tickWidth: 1.5 },
        ticks: { color: '#000000', font: { family: FONT, size: 18 }, padding: 1, maxRotation: 0, autoSkip: false, callback: v => String(v) }
      },
      y: {
        type: 'logarithmic',
        min: 0.005,
        max: 1.053,
        afterBuildTicks: axis => { axis.ticks = yTicks.map(v => ({ value: v })); },
        afterFit: axis => { axis.width = 93; },
        border: { display: false },
        grid: { color: '#d9d9d9', lineWidth: 1.4, drawTicks: true, tickLength: 6, tickColor: '#333333', tickWidth: 1.5 },
        ticks: { color: '#000000', font: { family: FONT, size: 18 }, padding: 3, autoSkip: false, callback: v => String(v) }
      }
    }
  },
  plugins: [decorations]
});
</script>
</body>
</html>
